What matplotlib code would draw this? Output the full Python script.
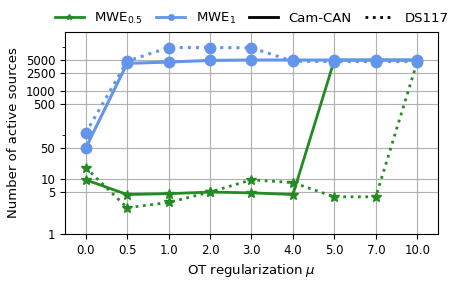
import numpy as np
import matplotlib
matplotlib.use("Agg")
import matplotlib.pyplot as plt
from matplotlib.lines import Line2D
from matplotlib.ticker import FixedLocator, NullFormatter

mu_labels = ["0.0", "0.5", "1.0", "2.0", "3.0", "4.0", "5.0", "7.0", "10.0"]

# number of active sources
mwe1_camcan = [50, 4200, 4500, 4900, 5000, 5000, 5000, 5000, 5000]
mwe1_ds117 = [110, 4700, 9600, 9600, 9500, 4700, 4600, 4600, 4600]
mwe05_camcan = [9.5, 4.4, 4.6, 5.0, 4.8, 4.4, 5000, 5000, 5000]
mwe05_ds117 = [18, 2.2, 2.9, 5.0, 9.5, 8.2, 3.9, 3.9, 4600]

yticks = [1, 5, 10, 50, 500, 1000, 2500, 5000]

green = "forestgreen"
blue = "cornflowerblue"

fig = plt.figure(figsize=(4.56, 2.83), dpi=100)
ax = fig.add_axes([0.1425, 0.173, 0.818, 0.714])

x = np.arange(len(mu_labels))
# green first so the blue markers sit on top
ax.plot(x, mwe05_camcan, color=green, lw=2, marker="*", ms=7, ls="-")
ax.plot(x, mwe05_ds117, color=green, lw=2, marker="*", ms=7, ls=":")
ax.plot(x, mwe1_camcan, color=blue, lw=2.2, marker="o", ms=7.5, ls="-")
ax.plot(x, mwe1_ds117, color=blue, lw=2.2, marker="o", ms=7.5, ls=":")

ax.set_yscale("symlog", linthresh=2)
ax.set_ylim(1, 21700)
ax.set_yticks(yticks)
ax.set_yticklabels([str(t) for t in yticks])
ax.yaxis.set_minor_locator(FixedLocator([100, 10000]))
ax.yaxis.set_minor_formatter(NullFormatter())
ax.set_xticks(x)
ax.set_xticklabels(mu_labels)
ax.set_xlim(-0.5, 8.5)
ax.tick_params(labelsize=8.5)
ax.grid(True, color="#b0b0b0", lw=0.8)
ax.set_axisbelow(True)

ax.set_xlabel(r"OT regularization $\mu$", fontsize=9.5)
ax.set_ylabel("Number of active sources", fontsize=9.5)

handles = [
    Line2D([], [], color=green, lw=2, marker="*", ms=4),
    Line2D([], [], color=blue, lw=2, marker="o", ms=4),
    Line2D([], [], color="k", lw=2, ls="-"),
    Line2D([], [], color="k", lw=2, ls=":"),
]
names = [r"MWE$_{0.5}$", r"MWE$_{1}$", "Cam-CAN", "DS117"]
ax.legend(handles, names, ncol=4, loc="lower center", bbox_to_anchor=(0.5, 0.99),
          frameon=False, fontsize=9.5, handlelength=2.2, columnspacing=1.0,
          handletextpad=0.8, borderaxespad=0.2)

fig.savefig("out.png", dpi=100)
